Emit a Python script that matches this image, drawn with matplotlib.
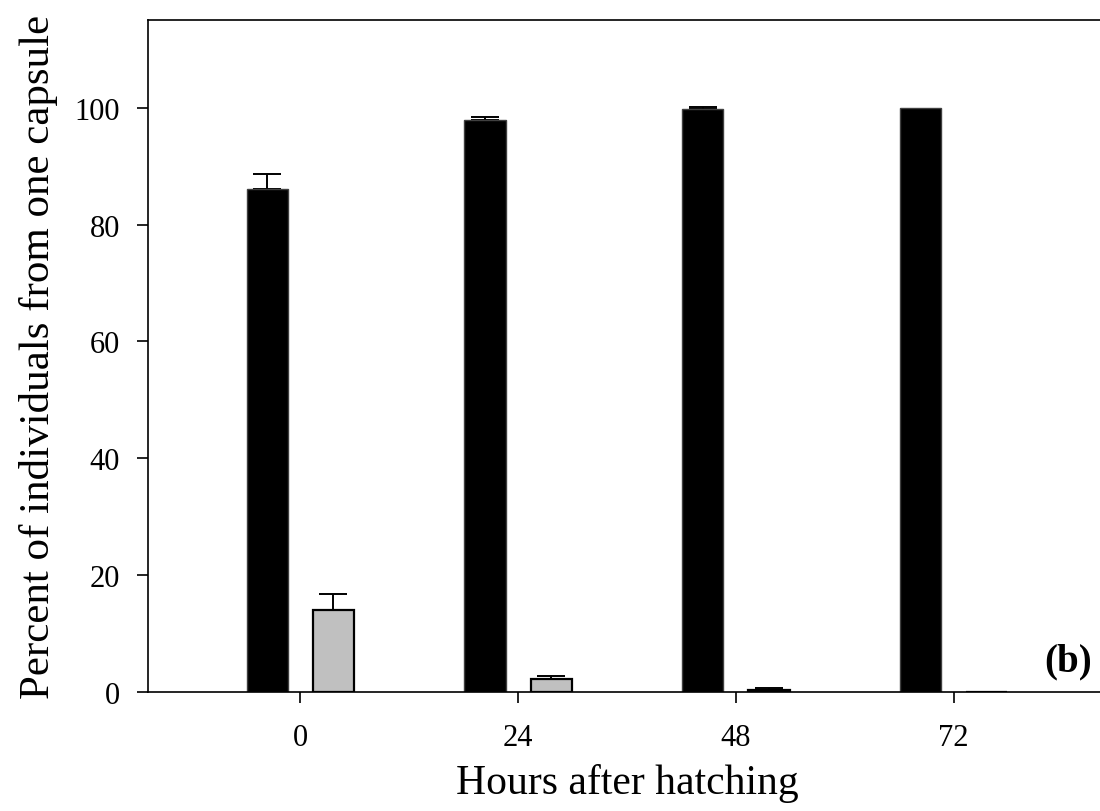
import numpy as np
from matplotlib import pyplot as plt

hours = [0, 24, 48, 72]
black_vals = [86.0, 97.9, 99.8, 100.0]
black_err = [2.6, 0.5, 0.3, 0.0]
grey_vals = [14.0, 2.3, 0.3, 0.0]
grey_err = [2.7, 0.5, 0.3, 0.0]

plt.rcParams['font.family'] = ['Liberation Serif', 'DejaVu Serif']

fig = plt.figure(figsize=(11, 8.12), dpi=100)
ax = fig.add_axes([0.1345, 0.1466, 0.871, 0.8275])

x = np.arange(len(hours))
w = 0.19
off = 0.152


def draw_group(xpos, vals, errs, color, edge, lw):
    ax.bar(xpos, vals, w, color=color, edgecolor=edge, linewidth=lw, zorder=2)
    # only upper error bars, skip the zero ones
    keep = np.array(errs) > 0
    ax.errorbar(xpos[keep], np.array(vals)[keep],
                yerr=[np.zeros(keep.sum()), np.array(errs)[keep]],
                fmt='none', ecolor='black', elinewidth=1.4, capsize=10,
                capthick=1.4, zorder=1)


draw_group(x - off, black_vals, black_err, 'black', '#404040', 1.0)
draw_group(x + off, grey_vals, grey_err, '#c0c0c0', 'black', 1.6)

ax.set_xlim(-0.7, 3.7)
ax.set_ylim(0, 115)
ax.set_xticks(x)
ax.set_xticklabels([str(h) for h in hours])
ax.set_yticks([0, 20, 40, 60, 80, 100])

for s in ax.spines.values():
    s.set_linewidth(1.2)
ax.tick_params(direction='out', length=8, width=1.2, labelsize=22)
ax.tick_params(axis='y', pad=12)
ax.tick_params(axis='x', pad=14)

ax.set_xlabel('Hours after hatching', fontsize=30, labelpad=8)
ax.set_ylabel('Percent of individuals from one capsule', fontsize=31, labelpad=12)

ax.text(0.985, 0.018, '(b)', transform=ax.transAxes, fontsize=28, fontweight='bold',
        ha='right', va='bottom')

fig.savefig('out.png', dpi=100)
